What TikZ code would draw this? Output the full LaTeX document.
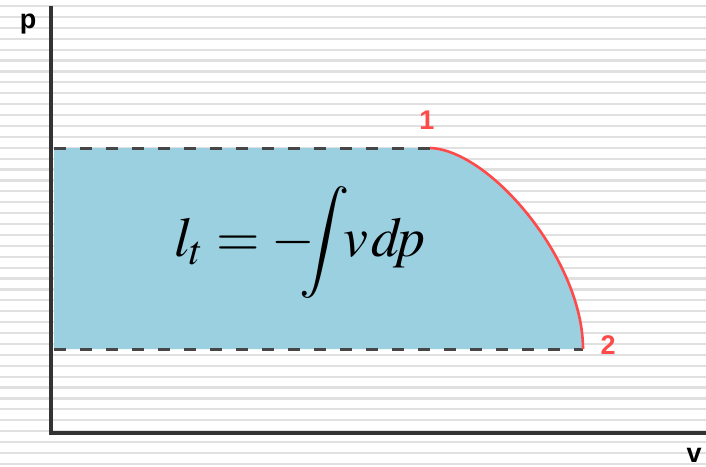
\documentclass[tikz,border=0pt]{standalone}
\usepackage{mathptmx}
\usepackage{fontspec}
\setsansfont{Liberation Sans}
\definecolor{stripe}{HTML}{E0E0E0}
\definecolor{area}{HTML}{9BD0E1}
\definecolor{proc}{HTML}{FF4A4A}
\definecolor{axis}{HTML}{333333}
\tikzset{
  lbl/.style={font=\sffamily\bfseries\fontsize{27}{27}\selectfont,anchor=base,inner sep=0.5pt},
  isobar/.style={draw=axis!90,line width=3pt,dash pattern=on 12pt off 14pt},
}

\begin{document}
\begin{tikzpicture}[x=1pt,y=-1pt]
  \useasboundingbox(0,0)rectangle(706,466);
  % background stripes
  \foreach \y in {6,16.9,...,466}
    \draw[stripe,line width=2.2pt](0,\y)--(706,\y);
  % states
  \coordinate (A) at (54,148);
  \coordinate (s1) at (430,148);
  \coordinate (s2) at (583,349);
  \coordinate (B) at (54,349);
  \fill[area](A)--(s1).. controls (490,150) and (583,260) ..(s2)--(B)--cycle;
  \draw[isobar](A)--(s1);
  \draw[isobar](B)--(s2);
  \draw[proc,line width=2.6pt](s1).. controls (490,150) and (583,260) ..(s2);
  % axes
  \coordinate (O) at (51,433);
  \coordinate (ptop) at (51,8);
  \coordinate (vend) at (706,433);
  \draw[axis,line width=3.2pt,line cap=rect](ptop)--(O)--(vend);
  \node[lbl] (p) at (28,28) {p};
  \node[lbl] (v) at (694,462) {v};
  \node[lbl,text=proc] (n1) at (427,129) {1};
  \node[lbl,text=proc] (n2) at (608,354) {2};
  \node[anchor=base west,font=\fontsize{56}{56}\selectfont,inner sep=0pt] (lt) at (174,256)
    {$l_t=-\mkern-7mu\displaystyle\int\mkern-4mu v\mkern1mu d\mkern-3mu p$};
\end{tikzpicture}
\end{document}
